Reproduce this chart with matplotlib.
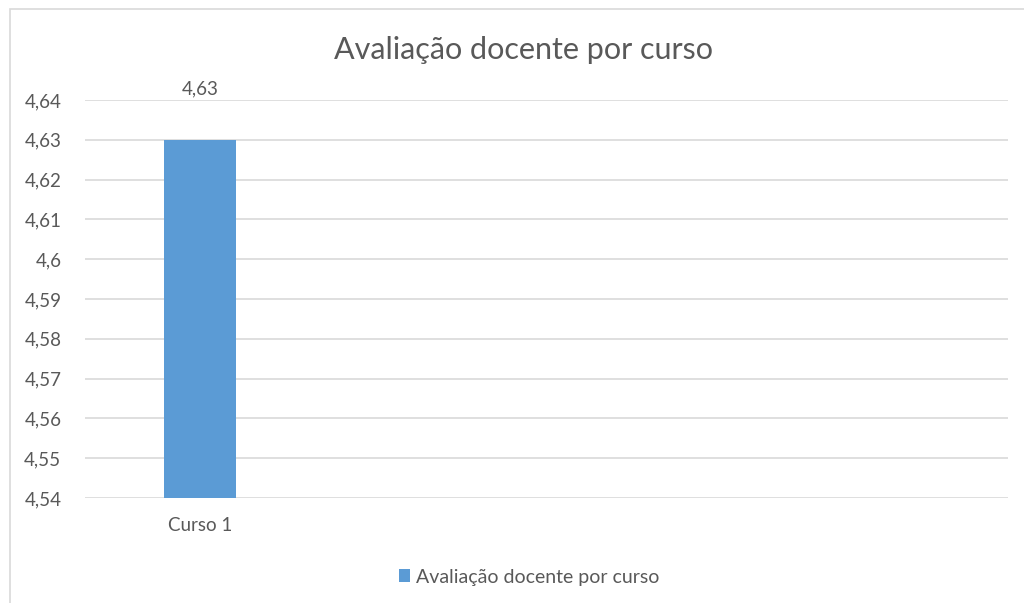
import matplotlib.pyplot as plt
from matplotlib.patches import Rectangle

# data
categorias = ['Curso 1', '', '', '']
valores = [4.63, None, None, None]
yticks = [4.54, 4.55, 4.56, 4.57, 4.58, 4.59, 4.60, 4.61, 4.62, 4.63, 4.64]
ytick_labels = ['4,54', '4,55', '4,56', '4,57', '4,58', '4,59', '4,6', '4,61', '4,62', '4,63', '4,64']
serie = 'Avaliação docente por curso'
titulo = 'Avaliação docente por curso'

cor_barra = '#5B9BD5'
cor_texto = '#595959'
cor_grade = '#D9D9D9'

plt.rcParams['font.family'] = ['Lato', 'DejaVu Sans']

fig = plt.figure(figsize=(10.24, 6.03), dpi=100)
ax = fig.add_axes([85 / 1024, 1 - 498 / 603, (1008 - 85) / 1024, (498 - 100) / 603])

# chart border (cut off at right and bottom like the screenshot)
fig.patches.append(Rectangle((10 / 1024, -0.1), 1.2, 1 - 9 / 603 + 0.1,
                             transform=fig.transFigure, fill=False,
                             edgecolor='#D9D9D9', lw=1.2))

xs = [i for i, v in enumerate(valores) if v is not None]
hs = [v for v in valores if v is not None]
bars = ax.bar(xs, [h - yticks[0] for h in hs], bottom=yticks[0], width=0.313,
              color=cor_barra, label=serie, zorder=3)

for x, h in zip(xs, hs):
    ax.annotate(f'{h:.2f}'.replace('.', ','), (x, h), xytext=(0, 37),
                textcoords='offset points', ha='center', va='center',
                fontsize=13.5, color=cor_texto)

ax.set_xlim(-0.5, len(categorias) - 0.5)
ax.set_ylim(yticks[0], yticks[-1])
ax.set_yticks(yticks)
ax.set_yticklabels(ytick_labels)
ax.set_xticks(range(len(categorias)))
ax.set_xticklabels(categorias)
ax.tick_params(axis='y', length=0, pad=17, labelsize=13.5, labelcolor=cor_texto)
ax.tick_params(axis='x', length=0, pad=14, labelsize=13.5, labelcolor=cor_texto)
ax.grid(axis='y', color=cor_grade, lw=1.2, zorder=0)
for s in ax.spines.values():
    s.set_visible(False)

fig.text(523 / 1024, 1 - 50 / 603, titulo, ha='center', va='center',
         fontsize=22, color=cor_texto)

fig.legend(loc='center', bbox_to_anchor=(529 / 1024, 1 - 577 / 603), frameon=False,
           handlelength=0.6, handleheight=0.6, handletextpad=0.3,
           fontsize=14, labelcolor=cor_texto)

fig.savefig('out.png', dpi=100, facecolor='white')
